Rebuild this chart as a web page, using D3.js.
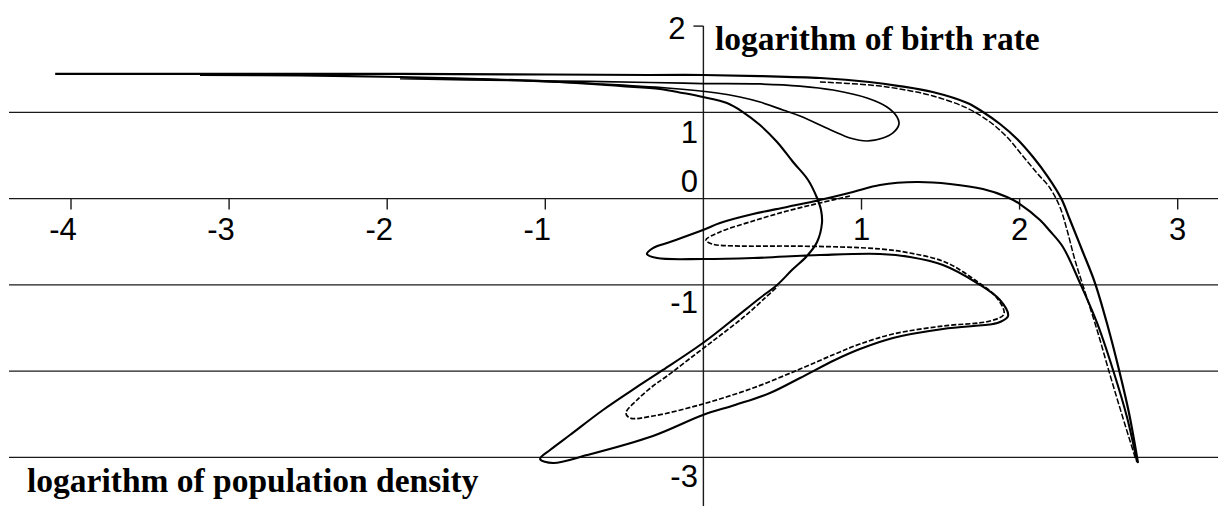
<!DOCTYPE html>
<html>
<head>
<meta charset="utf-8">
<script src="https://cdn.jsdelivr.net/npm/d3@7"></script>
<style>
  html, body { margin: 0; padding: 0; background: #fff; }
  svg { display: block; }
</style>
</head>
<body>
<svg id="chart" width="1218" height="506"></svg>
<script>
// Axis ticks and grid levels
const xTickValues = [-4, -3, -2, -1, 1, 2, 3];
const yGridValues = [1, 0, -1, -2, -3];
const yLabelValues = [2, 1, 0, -1, -3];

// Trajectory of the map: x = log population density, y = log birth rate.
// Outer strand: long plateau on top, then the steep drop on the right.
const outerStrand = [
  [-4.10, 1.445], [-3.18, 1.445], [-1.92, 1.445], [-0.97, 1.439], [-0.34, 1.433],
  [0.00, 1.433], [0.36, 1.421], [0.74, 1.398], [1.05, 1.352], [1.24, 1.305],
  [1.45, 1.236], [1.67, 1.108], [1.768, 1.004], [1.876, 0.865], [1.984, 0.691],
  [2.085, 0.482], [2.180, 0.250], [2.262, 0.007], [2.319, -0.248], [2.395, -0.596],
  [2.477, -0.979], [2.559, -1.489], [2.629, -1.987], [2.692, -2.486], [2.749, -3.065]
];

// Second strand running just inside the outer one
const innerStrand = [
  [0.737, 1.352], [1.054, 1.317], [1.243, 1.271], [1.452, 1.190], [1.667, 1.050],
  [1.813, 0.888], [1.920, 0.714], [2.015, 0.506], [2.110, 0.297], [2.192, 0.123],
  [2.255, -0.097], [2.300, -0.364], [2.350, -0.712], [2.414, -1.083], [2.490, -1.523],
  [2.572, -2.045], [2.648, -2.509], [2.736, -3.031]
];

// Main folded branch: up from the bottom right, the arch, left loop,
// right loop, bottom-left tip, then back up to the plateau.
const foldedBranch = [
  [2.743, -3.054], [2.679, -2.532], [2.591, -1.987], [2.490, -1.442], [2.382, -0.979],
  [2.274, -0.561], [2.192, -0.376], [2.129, -0.248], [2.002, -0.063], [1.920, 0.019],
  [1.768, 0.111], [1.560, 0.169], [1.351, 0.192], [1.117, 0.158], [0.946, 0.077],
  [0.737, -0.016], [0.529, -0.097], [0.314, -0.179], [0.105, -0.283], [-0.003, -0.364],
  [-0.211, -0.503], [-0.319, -0.573], [-0.357, -0.642], [-0.293, -0.689], [-0.003, -0.700],
  [0.314, -0.689], [0.737, -0.654], [1.117, -0.642], [1.307, -0.677], [1.515, -0.770],
  [1.731, -0.979], [1.876, -1.176], [1.927, -1.361], [1.876, -1.431], [1.832, -1.454],
  [1.515, -1.512], [1.199, -1.616], [0.990, -1.744], [0.832, -1.871], [0.611, -2.080],
  [0.421, -2.254], [0.200, -2.393], [-0.003, -2.509], [-0.319, -2.752], [-0.736, -2.973],
  [-0.951, -3.065], [-1.033, -3.019],
  [-0.970, -2.915], [-0.844, -2.741], [-0.635, -2.451], [-0.420, -2.184], [-0.256, -1.987],
  [-0.003, -1.674], [0.168, -1.431], [0.358, -1.152], [0.466, -1.002], [0.560, -0.828],
  [0.655, -0.665], [0.719, -0.503], [0.750, -0.283], [0.744, -0.132], [0.719, 0.007],
  [0.662, 0.216], [0.567, 0.424], [0.466, 0.656], [0.358, 0.853], [0.250, 1.004],
  [0.149, 1.108], [-0.003, 1.178], [-0.129, 1.224], [-0.275, 1.271], [-0.527, 1.305],
  [-0.907, 1.352], [-1.413, 1.387], [-1.919, 1.410], [-2.551, 1.427], [-3.184, 1.433]
];

// Sparser inner loops: small left loop, right loop, inner bottom tip
const innerLoops = [
  [0.927, 0.030], [0.737, -0.051], [0.529, -0.144], [0.314, -0.260],
  [0.105, -0.387], [0.016, -0.480], [0.054, -0.526], [0.231, -0.550], [0.529, -0.550],
  [0.864, -0.561], [1.117, -0.584], [1.307, -0.631], [1.528, -0.735], [1.718, -0.944],
  [1.857, -1.152], [1.901, -1.338], [1.813, -1.419], [1.515, -1.477], [1.199, -1.570],
  [0.990, -1.686], [0.832, -1.802], [0.611, -1.976], [0.314, -2.196], [-0.003, -2.381],
  [-0.319, -2.521], [-0.464, -2.544], [-0.490, -2.486], [-0.420, -2.335], [-0.319, -2.173],
  [-0.230, -2.057], [-0.040, -1.790], [0.118, -1.570], [0.263, -1.361], [0.390, -1.152],
  [0.472, -1.013]
];

// Tongue hanging below the plateau
const tongue = [
  [-1.919, 1.392], [-1.495, 1.375], [-0.907, 1.363], [-0.338, 1.346], [-0.003, 1.334],
  [0.358, 1.329], [0.611, 1.305], [0.820, 1.259], [1.035, 1.166], [1.161, 1.062],
  [1.225, 0.946], [1.237, 0.865], [1.199, 0.761], [1.136, 0.703], [1.035, 0.668],
  [0.927, 0.703], [0.820, 0.784], [0.611, 0.958], [0.503, 1.027], [0.358, 1.120],
  [0.231, 1.178], [0.086, 1.224], [-0.230, 1.282], [-0.654, 1.329], [-1.078, 1.363],
  [-1.495, 1.387], [-1.919, 1.398]
];

const svg = d3.select("#chart");
const W = 1218, H = 506;

const x = d3.scaleLinear().domain([-4, 3]).range([71, 1177.7]);
const y = d3.scaleLinear().domain([-3, 2]).range([457.35, 26.1]);

const axisColor = "#1a1a1a";
const gridLeft = 9;

// Horizontal grid lines
svg.append("g").selectAll("line").data(yGridValues).join("line")
  .attr("x1", gridLeft).attr("x2", W)
  .attr("y1", d => y(d)).attr("y2", d => y(d))
  .attr("stroke", axisColor).attr("stroke-width", 1.4);

// Vertical axis through x = 0
svg.append("line")
  .attr("x1", x(0)).attr("x2", x(0))
  .attr("y1", y(2)).attr("y2", H)
  .attr("stroke", axisColor).attr("stroke-width", 1.4);

// Top tick of the vertical axis
svg.append("line")
  .attr("x1", x(0) - 10).attr("x2", x(0))
  .attr("y1", y(2)).attr("y2", y(2))
  .attr("stroke", axisColor).attr("stroke-width", 1.4);

// Tick marks along the horizontal axis
svg.append("g").selectAll("line").data(xTickValues).join("line")
  .attr("x1", d => x(d)).attr("x2", d => x(d))
  .attr("y1", y(0)).attr("y2", y(0) + 11)
  .attr("stroke", axisColor).attr("stroke-width", 1.4);

const tickFont = "'Liberation Sans', Arial, sans-serif";

// x tick labels (plain hyphen for the minus sign)
svg.append("g").selectAll("text").data(xTickValues).join("text")
  .attr("x", d => x(d) + (d < 0 ? -8 : 0))
  .attr("y", y(0) + 41.5)
  .attr("text-anchor", "middle")
  .attr("font-family", tickFont)
  .attr("font-size", 31)
  .attr("fill", "#000")
  .text(d => String(d));

// y tick labels, nudged off the grid lines
const yLabelShift = { "2": 12.9, "1": 30.6, "0": -6.6, "-1": 28.2, "-3": 29.4 };
svg.append("g").selectAll("text").data(yLabelValues).join("text")
  .attr("x", d => d === 2 ? x(0) - 18 : x(0) - 5.5)
  .attr("y", d => y(d) + yLabelShift[String(d)])
  .attr("text-anchor", "end")
  .attr("font-family", tickFont)
  .attr("font-size", 31)
  .attr("fill", "#000")
  .text(d => String(d));

// Trajectory
const line = d3.line()
  .x(d => x(d[0]))
  .y(d => y(d[1]))
  .curve(d3.curveCatmullRom.alpha(0.5));

const strands = [
  { pts: tongue, w: 1.7, dash: null },
  { pts: innerLoops, w: 1.7, dash: "5,2" },
  { pts: innerStrand, w: 1.5, dash: "6,2" },
  { pts: foldedBranch, w: 2.1, dash: null },
  { pts: outerStrand, w: 2.2, dash: null }
];

svg.append("g").selectAll("path").data(strands).join("path")
  .attr("d", d => line(d.pts))
  .attr("fill", "none")
  .attr("stroke", "#000")
  .attr("stroke-width", d => d.w)
  .attr("stroke-dasharray", d => d.dash)
  .attr("stroke-linejoin", "round");

// Axis titles
const titleFont = "'Liberation Serif', 'Times New Roman', serif";
svg.append("text")
  .attr("x", 715).attr("y", 50)
  .attr("font-family", titleFont).attr("font-weight", "bold")
  .attr("font-size", 33.5).attr("fill", "#000")
  .text("logarithm of birth rate");

svg.append("text")
  .attr("x", 27).attr("y", 491.7)
  .attr("font-family", titleFont).attr("font-weight", "bold")
  .attr("font-size", 33.5).attr("fill", "#000")
  .text("logarithm of population density");
</script>
</body>
</html>
